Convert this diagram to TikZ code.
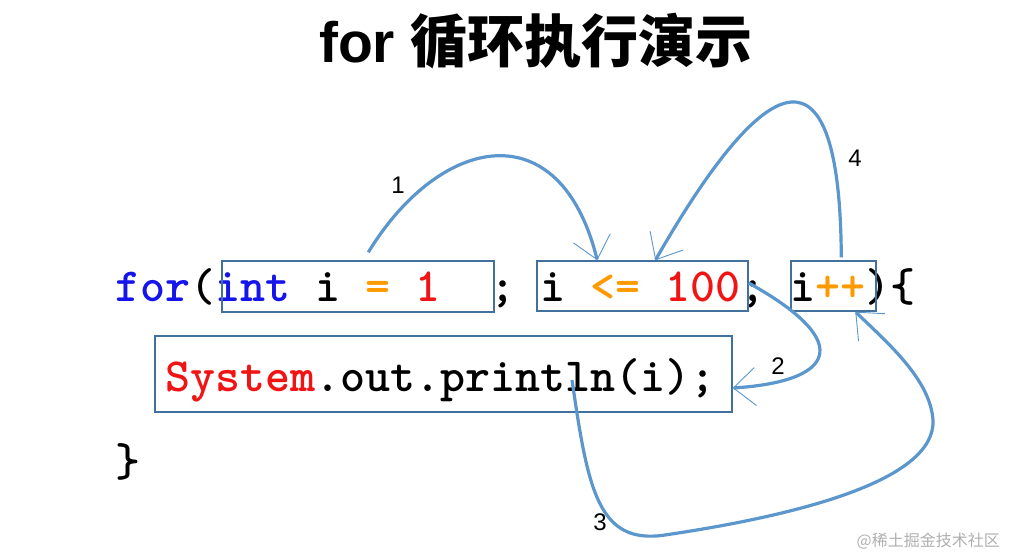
\documentclass[tikz,border=0pt]{standalone}
\usepackage{fontspec}
\setmainfont{Liberation Sans}
\newfontfamily\cjkfont{Noto Sans CJK SC}
\usetikzlibrary{arrows.meta}
\definecolor{kwblue}{RGB}{20,20,235}
\definecolor{oporange}{RGB}{255,153,0}
\definecolor{numred}{RGB}{240,20,20}
\definecolor{boxblue}{RGB}{65,113,156}
\definecolor{arrblue}{RGB}{91,150,205}
\definecolor{wmgray}{RGB}{175,175,175}
\tikzset{
  codeline/.style={anchor=base west, inner sep=0pt, font=\ttfamily\bfseries\fontsize{47.62}{56}\selectfont},
  codebox/.style={draw=boxblue, line width=1.4pt, inner sep=0pt},
  flow/.style={draw=arrblue, line width=3.2pt, -{Straight Barb[length=22pt,width=38pt,line width=0.9pt]}},
  steplabel/.style={font=\fontsize{24}{28}\selectfont, inner sep=0pt}
}
\begin{document}
\begin{tikzpicture}[x=1pt,y=-1pt]
\useasboundingbox (0,0) rectangle (1011,556);
% title
\node[inner sep=0pt, anchor=base] (title) at (536,63) {\fontsize{57}{62}\selectfont\bfseries for {\cjkfont\bfseries 循环执行演示}};
% code
\node[codeline] (line1) at (115,301) {\textcolor{kwblue}{for}(\textcolor{kwblue}{int}~i~\textcolor{oporange}{=}~\textcolor{numred}{1}~~;~i~\textcolor{oporange}{<=}~\textcolor{numred}{100};~i\textcolor{oporange}{++})\{};
\node[codeline] (line2) at (165,391) {\textcolor{numred}{System}.out.println(i);};
\node[codeline] (line3) at (115,476) {\}};
% boxes
\node[codebox, minimum width=272pt, minimum height=51pt] (box1) at (358,286.5) {};
\node[codebox, minimum width=211pt, minimum height=50pt] (box2) at (642.5,286) {};
\node[codebox, minimum width=85pt, minimum height=50pt] (box3) at (833.5,286) {};
\node[codebox, minimum width=577pt, minimum height=76pt] (box4) at (443.5,374) {};
% free end of arrow 3
\coordinate (s3) at (572,380);
% arrows
\draw[flow] ([xshift=147pt,yshift=8pt]box1.north west) .. controls (440,135) and (560,110) .. ([xshift=61pt]box2.north west);
\draw[flow] ([yshift=3pt]box2.east) .. controls (860,345) and (830,382) .. ([yshift=-14pt]box4.east);
\draw[flow] (s3) .. controls (588,490) and (598,545) .. (665,535) .. controls (800,515) and (936,480) .. (933,420) .. controls (930,380) and (890,345) .. ([xshift=65pt]box3.south west);
\draw[flow] ([xshift=51pt,yshift=3pt]box3.north west) .. controls (840,40) and (770,60) .. ([xshift=119pt]box2.north west);
% labels
\node[steplabel] (l1) at (398,185) {1};
\node[steplabel] (l2) at (778,366) {2};
\node[steplabel] (l3) at (600,522) {3};
\node[steplabel] (l4) at (855,158) {4};
% watermark
\node[inner sep=0pt, anchor=east, text=wmgray] (wm) at (1000,541) {\cjkfont\fontsize{16}{18}\selectfont @稀土掘金技术社区};
\end{tikzpicture}
\end{document}
